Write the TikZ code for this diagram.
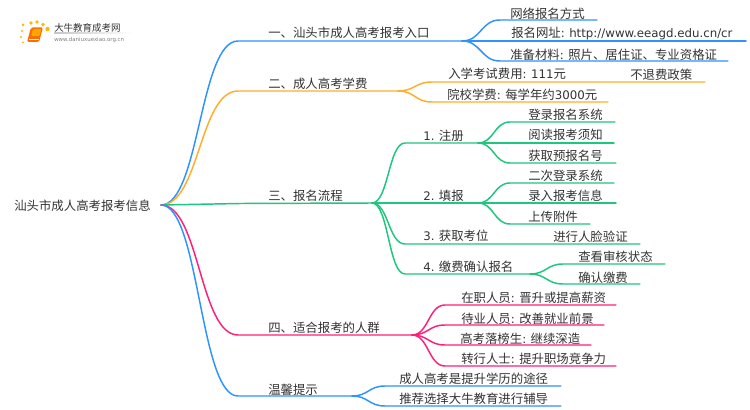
\documentclass[tikz,border=0pt]{standalone}
\usepackage{fontspec}
\setmainfont{Noto Sans CJK SC}
\newfontfamily\lat[Scale=0.95,WordSpace=0.85]{DejaVu Sans}
\usetikzlibrary{calc}
\definecolor{cblue}{HTML}{2E93FF}
\definecolor{corange}{HTML}{FFAE2B}
\definecolor{cgreen}{HTML}{1FC67F}
\definecolor{cpink}{HTML}{FF1F7A}
\definecolor{ctext}{HTML}{333333}
\newcommand\lnk[4]{%
  \coordinate (mm) at ($(#2)!.5!(#3)$);
  \draw[#1] (#2) .. controls (mm |- #2) and (mm |- #3) .. (#3) -- (#4);}
\tikzset{
  x=0.75pt,y=-0.75pt,
  wire/.style={line width=1.1pt,line cap=round},
  wb/.style={wire,cblue}, wo/.style={wire,corange}, wg/.style={wire,cgreen}, wp/.style={wire,cpink},
  lab/.style={anchor=west,inner sep=0pt,yshift=-0.4pt,text=ctext,font=\fontsize{9.3}{11}\selectfont},
}
\begin{document}
\begin{tikzpicture}
\path[use as bounding box,fill=white] (0,0) rectangle (750,410);
% logo
\fill[orange!55!yellow] (23,25) circle (1.5) (31,23) circle (1.8) (37,22) circle (1.9) (43,24.5) circle (1.9) (47.5,29) circle (2.2) (22,31) circle (1.2) (21,37) circle (1.1) (23,42.5) circle (1);
\fill[orange!85!red,rounded corners=1.2] (31,27.5) -- (43,27.5) -- (39,42) -- (27,42) -- cycle;
\fill[orange!70!yellow,rounded corners=.8] (33,29) -- (41.5,29) -- (39.5,36) -- (31,36) -- cycle;
\draw[white,line width=.5] (28.5,39.5) -- (38.5,39.5);
\shade[left color=gray!45,right color=white,draw=none] (54,33) rectangle (133,33.6);
\node[lab,font=\fontsize{7.1}{8}\selectfont] (logoa) at (54,27) {大牛教育成考网};
\node[lab,text=gray,font=\lat\fontsize{4.3}{5}\selectfont] (logob) at (54,39) {www.daniuxuexiao.org.cn};
% fork points and line ends
\coordinate (r) at (161,205);
\node[lab] (root) at (14,205) {汕头市成人高考报考信息};
% branch 1
\coordinate (a) at (238,41); \coordinate (af) at (462,41);
\lnk{wb}{r}{a}{af}
\node[lab] (at) at (268,32) {一、汕头市成人高考报考入口};
\coordinate (a1) at (500,20); \coordinate (a1e) at (597,20);
\coordinate (a2) at (500,41); \coordinate (a2e) at (746,41);
\coordinate (a3) at (500,61); \coordinate (a3e) at (728,61);
\lnk{wb}{af}{a1}{a1e} \lnk{wb}{af}{a2}{a2e} \lnk{wb}{af}{a3}{a3e}
\node[lab] (a1t) at (510,13) {网络报名方式};
\node[lab] (a2t) at (511,33) {报名网址{\lat : http://www.eeagd.edu.cn/cr}};
\node[lab] (a3t) at (510,54) {准备材料{\lat : }照片、居住证、专业资格证};
% branch 2
\coordinate (b) at (238,91); \coordinate (bf) at (398,91);
\lnk{wo}{r}{b}{bf}
\node[lab] (bt) at (268,83) {二、成人高考学费};
\coordinate (b1) at (432,82); \coordinate (b1e) at (705,82);
\coordinate (b2) at (432,102); \coordinate (b2e) at (608,102);
\lnk{wo}{bf}{b1}{b1e} \lnk{wo}{bf}{b2}{b2e}
\node[lab] (b1t) at (448,73) {入学考试费用{\lat : 111}元};
\node[lab] (b1x) at (630,74) {不退费政策};
\node[lab] (b2t) at (447,94) {院校学费{\lat : }每学年约{\lat 3000}元};
% branch 3
\coordinate (c) at (240,203.5); \coordinate (cf) at (372,203);
\lnk{wg}{r}{c}{cf}
\node[lab] (ct) at (268,195) {三、报名流程};
\coordinate (c1) at (405,143); \coordinate (c1f) at (478,143);
\coordinate (c2) at (405,203); \coordinate (c2f) at (478,203);
\coordinate (c3) at (405,244); \coordinate (c3e) at (640,244);
\coordinate (c4) at (405,274); \coordinate (c4f) at (530,274);
\lnk{wg}{cf}{c1}{c1f} \lnk{wg}{cf}{c2}{c2f} \lnk{wg}{cf}{c3}{c3e} \lnk{wg}{cf}{c4}{c4f}
\node[lab] (c1t) at (423,135) {{\lat 1. }注册};
\node[lab] (c2t) at (423,195) {{\lat 2. }填报};
\node[lab] (c3t) at (423,235.5) {{\lat 3. }获取考位};
\node[lab] (c3x) at (553,236) {进行人脸验证};
\node[lab] (c4t) at (423,266) {{\lat 4. }缴费确认报名};
\coordinate (d1) at (510,122); \coordinate (d1e) at (615,122);
\coordinate (d2) at (510,143); \coordinate (d2e) at (614,143);
\coordinate (d3) at (510,163); \coordinate (d3e) at (616,163);
\lnk{wg}{c1f}{d1}{d1e} \lnk{wg}{c1f}{d2}{d2e} \lnk{wg}{c1f}{d3}{d3e}
\node[lab] (d1t) at (528,114) {登录报名系统};
\node[lab] (d2t) at (528,134.5) {阅读报考须知};
\node[lab] (d3t) at (528,155) {获取预报名号};
\coordinate (e1) at (510,183); \coordinate (e1e) at (614,183);
\coordinate (e2) at (510,203); \coordinate (e2e) at (616,203);
\coordinate (e3) at (510,224); \coordinate (e3e) at (590,224);
\lnk{wg}{c2f}{e1}{e1e} \lnk{wg}{c2f}{e2}{e2e} \lnk{wg}{c2f}{e3}{e3e}
\node[lab] (e1t) at (528,175) {二次登录系统};
\node[lab] (e2t) at (528,195) {录入报考信息};
\node[lab] (e3t) at (528,216) {上传附件};
\coordinate (g1) at (563,264); \coordinate (g1e) at (665,264);
\coordinate (g2) at (563,284); \coordinate (g2e) at (640,284);
\lnk{wg}{c4f}{g1}{g1e} \lnk{wg}{c4f}{g2}{g2e}
\node[lab] (g1t) at (578,256) {查看审核状态};
\node[lab] (g2t) at (578,277) {确认缴费};
% branch 4
\coordinate (p) at (238,335); \coordinate (pf) at (412,335);
\lnk{wp}{r}{p}{pf}
\node[lab] (pt) at (268,327) {四、适合报考的人群};
\coordinate (p1) at (445,305); \coordinate (p1e) at (616,305);
\coordinate (p2) at (445,325); \coordinate (p2e) at (604,325);
\coordinate (p3) at (445,345); \coordinate (p3e) at (591,345);
\coordinate (p4) at (445,366); \coordinate (p4e) at (616,366);
\lnk{wp}{pf}{p1}{p1e} \lnk{wp}{pf}{p2}{p2e} \lnk{wp}{pf}{p3}{p3e} \lnk{wp}{pf}{p4}{p4e}
\node[lab] (p1t) at (461,297) {在职人员{\lat : }晋升或提高薪资};
\node[lab] (p2t) at (461,318) {待业人员{\lat : }改善就业前景};
\node[lab] (p3t) at (460,338) {高考落榜生{\lat : }继续深造};
\node[lab] (p4t) at (461,358) {转行人士{\lat : }提升职场竞争力};
% branch 5
\coordinate (q) at (238,396); \coordinate (qf) at (352,396);
\lnk{wb}{r}{q}{qf}
\node[lab] (qt) at (268,389) {温馨提示};
\coordinate (q1) at (385,386); \coordinate (q1e) at (561,386);
\coordinate (q2) at (385,406); \coordinate (q2e) at (561,406);
\lnk{wb}{qf}{q1}{q1e} \lnk{wb}{qf}{q2}{q2e}
\node[lab] (q1t) at (399,378) {成人高考是提升学历的途径};
\node[lab] (q2t) at (399,398) {推荐选择大牛教育进行辅导};
\end{tikzpicture}
\end{document}
